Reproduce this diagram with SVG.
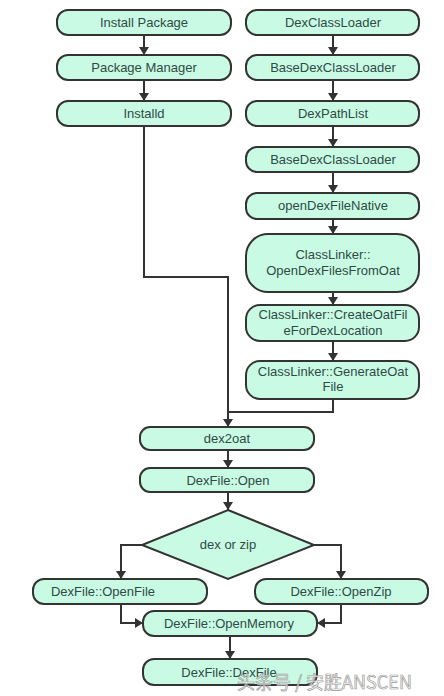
<svg xmlns="http://www.w3.org/2000/svg" width="444" height="696" viewBox="0 0 444 696">
<style>
.n rect, .n path { fill: #c9fbe4; stroke: #333; stroke-width: 2; }
.n text { font-family: "Liberation Sans", Arial, sans-serif; font-size: 13px; fill: #2f4a44; text-anchor: middle; }
.c path { fill: none; stroke: #333; stroke-width: 2; }
.wm { font-family: "Noto Sans CJK SC", "Liberation Sans", sans-serif; font-size: 18px; fill: #ffffff; stroke: #9a9a9a; stroke-width: 0.7; fill-opacity: 0.8; }
</style>
<defs>
<marker id="ah" markerWidth="8" markerHeight="10" refX="8" refY="5" orient="auto" markerUnits="userSpaceOnUse" viewBox="0 0 8 10">
<path d="M0,0 L8,5 L0,10 Z" fill="#333"/>
</marker>
</defs>
<rect width="444" height="696" fill="#fff"/>
<g class="c">
<path d="M144,35 V55" marker-end="url(#ah)"/>
<path d="M144,80 V101" marker-end="url(#ah)"/>
<path d="M144,126 V277 H228 V427" marker-end="url(#ah)"/>
<path d="M333,35 V55" marker-end="url(#ah)"/>
<path d="M333,80 V101" marker-end="url(#ah)"/>
<path d="M333,126 V147" marker-end="url(#ah)"/>
<path d="M333,172 V193" marker-end="url(#ah)"/>
<path d="M333,219 V234" marker-end="url(#ah)"/>
<path d="M333,292 V305" marker-end="url(#ah)"/>
<path d="M333,341 V361" marker-end="url(#ah)"/>
<path d="M333,399 V412 H228"/>
<path d="M228,450 V468" marker-end="url(#ah)"/>
<path d="M228,492 V510" marker-end="url(#ah)"/>
<path d="M142,545 H121 V579" marker-end="url(#ah)"/>
<path d="M314,545 H341 V579" marker-end="url(#ah)"/>
<path d="M121,604 V623 H143" marker-end="url(#ah)"/>
<path d="M341,604 V623 H317" marker-end="url(#ah)"/>
<path d="M230,636 V659" marker-end="url(#ah)"/>
</g>
<g id="install-package" class="n"><rect x="57" y="10" width="174" height="25" rx="11"/><text x="144" y="27">Install Package</text></g>
<g id="package-manager" class="n"><rect x="57" y="55" width="174" height="25" rx="11"/><text x="144" y="72">Package Manager</text></g>
<g id="installd" class="n"><rect x="57" y="101" width="174" height="25" rx="11"/><text x="144" y="118">Installd</text></g>
<g id="dexclassloader" class="n"><rect x="246" y="10" width="173" height="25" rx="11"/><text x="333" y="27">DexClassLoader</text></g>
<g id="basedexclassloader1" class="n"><rect x="246" y="55" width="173" height="25" rx="11"/><text x="333" y="72">BaseDexClassLoader</text></g>
<g id="dexpathlist" class="n"><rect x="246" y="101" width="173" height="25" rx="11"/><text x="333" y="118">DexPathList</text></g>
<g id="basedexclassloader2" class="n"><rect x="246" y="147" width="173" height="25" rx="11"/><text x="333" y="164">BaseDexClassLoader</text></g>
<g id="opendexfilenative" class="n"><rect x="246" y="193" width="173" height="26" rx="11"/><text x="333" y="210">openDexFileNative</text></g>
<g id="opendexfilesfromoat" class="n"><rect x="246" y="234" width="173" height="58" rx="22"/><text x="333" y="259">ClassLinker::</text><text x="333" y="275">OpenDexFilesFromOat</text></g>
<g id="createoatfile" class="n"><rect x="246" y="305" width="173" height="36" rx="14"/><text x="333" y="319">ClassLinker::CreateOatFil</text><text x="333" y="335">eForDexLocation</text></g>
<g id="generateoatfile" class="n"><rect x="246" y="361" width="173" height="38" rx="14"/><text x="333" y="376">ClassLinker::GenerateOat</text><text x="333" y="391">File</text></g>
<g id="dex2oat" class="n"><rect x="140" y="427" width="174" height="23" rx="10"/><text x="227" y="443">dex2oat</text></g>
<g id="dexfile-open" class="n"><rect x="140" y="468" width="174" height="24" rx="10"/><text x="228" y="485">DexFile::Open</text></g>
<g id="dex-or-zip" class="n"><path d="M228,510 L314,545 L228,579 L142,545 Z"/><text x="228" y="549">dex or zip</text></g>
<g id="openfile" class="n"><rect x="33" y="579" width="174" height="25" rx="11"/><text x="103" y="596">DexFile::OpenFile</text></g>
<g id="openzip" class="n"><rect x="255" y="579" width="173" height="25" rx="11"/><text x="341" y="596">DexFile::OpenZip</text></g>
<g id="openmemory" class="n"><rect x="143" y="611" width="174" height="25" rx="11"/><text x="229" y="628">DexFile::OpenMemory</text></g>
<g id="dexfile-dexfile" class="n"><rect x="143" y="659" width="174" height="26" rx="11"/><text x="229" y="677">DexFile::DexFile</text></g>
<text class="wm" x="237" y="689">头条号 / 安胜ANSCEN</text>
</svg>
